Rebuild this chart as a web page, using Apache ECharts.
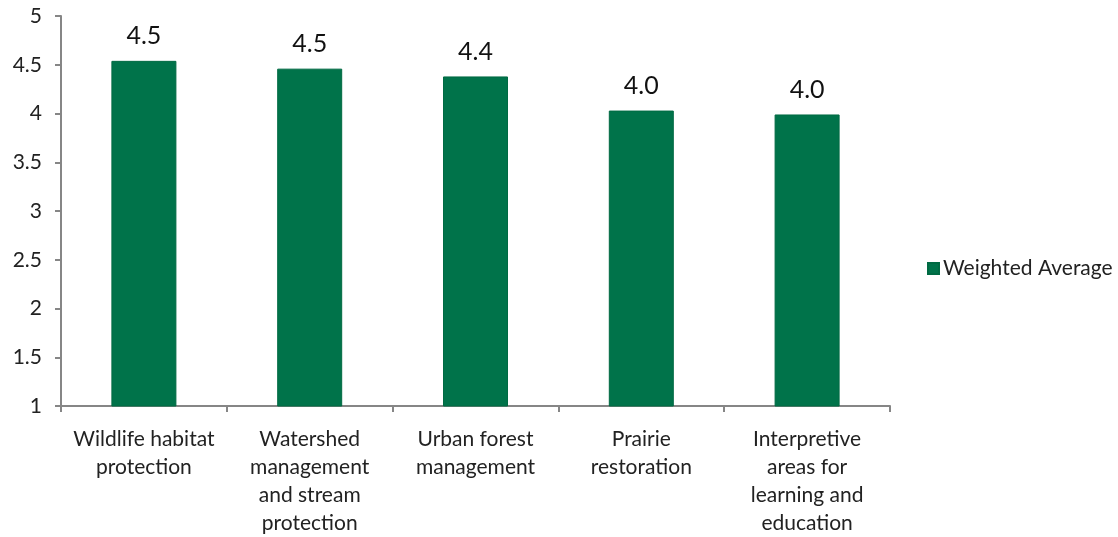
<!DOCTYPE html>
<html>
<head>
<meta charset="utf-8">
<script src="https://cdn.jsdelivr.net/npm/echarts@6/dist/echarts.min.js"></script>
<style>
  html, body { margin: 0; padding: 0; background: #fff; }
  #chart { width: 1118px; height: 537px; }
</style>
</head>
<body>
<div id="chart"></div>
<script>
// data
const categories = [
  'Wildlife habitat\nprotection',
  'Watershed\nmanagement\nand stream\nprotection',
  'Urban forest\nmanagement',
  'Prairie\nrestoration',
  'Interpretive\nareas for\nlearning and\neducation'
]
const weightedAverage = [4.54, 4.46, 4.38, 4.03, 3.99]
const seriesName = 'Weighted Average'

const font = 'Lato, "Open Sans", sans-serif'
const axisGray = '#868686'

const myChart = echarts.init(document.getElementById('chart'))
myChart.setOption({
  animation: false,
  grid: { left: 61, right: 228, top: 16, bottom: 128 },
  legend: {
    data: [seriesName],
    orient: 'vertical',
    left: 922,
    top: 'middle',
    itemWidth: 11,
    itemHeight: 11,
    itemGap: 0,
    icon: 'rect',
    textStyle: { fontFamily: font, fontSize: 21, color: '#222', padding: [0, 0, 0, -1] }
  },
  xAxis: {
    type: 'category',
    data: categories,
    axisLine: { lineStyle: { color: axisGray, width: 2 } },
    axisTick: { show: true, length: 6, alignWithLabel: false, lineStyle: { color: axisGray, width: 2 } },
    axisLabel: {
      interval: 0,
      margin: 19,
      fontFamily: font,
      fontSize: 21,
      lineHeight: 28,
      color: '#222'
    }
  },
  yAxis: {
    type: 'value',
    min: 1,
    max: 5,
    interval: 0.5,
    splitLine: { show: false },
    axisLine: { show: true, lineStyle: { color: axisGray, width: 2 } },
    axisTick: { show: true, length: 6, lineStyle: { color: axisGray, width: 2 } },
    axisLabel: { margin: 19, fontFamily: font, fontSize: 21, color: '#222' }
  },
  series: [{
    name: seriesName,
    type: 'bar',
    data: weightedAverage,
    barWidth: 65,
    itemStyle: { color: '#00734A', borderColor: '#006A43', borderWidth: 1 },
    label: {
      show: true,
      position: 'top',
      distance: 12,
      fontFamily: font,
      fontSize: 25,
      color: '#111',
      formatter: p => p.value.toFixed(1)
    }
  }]
})
</script>
</body>
</html>
